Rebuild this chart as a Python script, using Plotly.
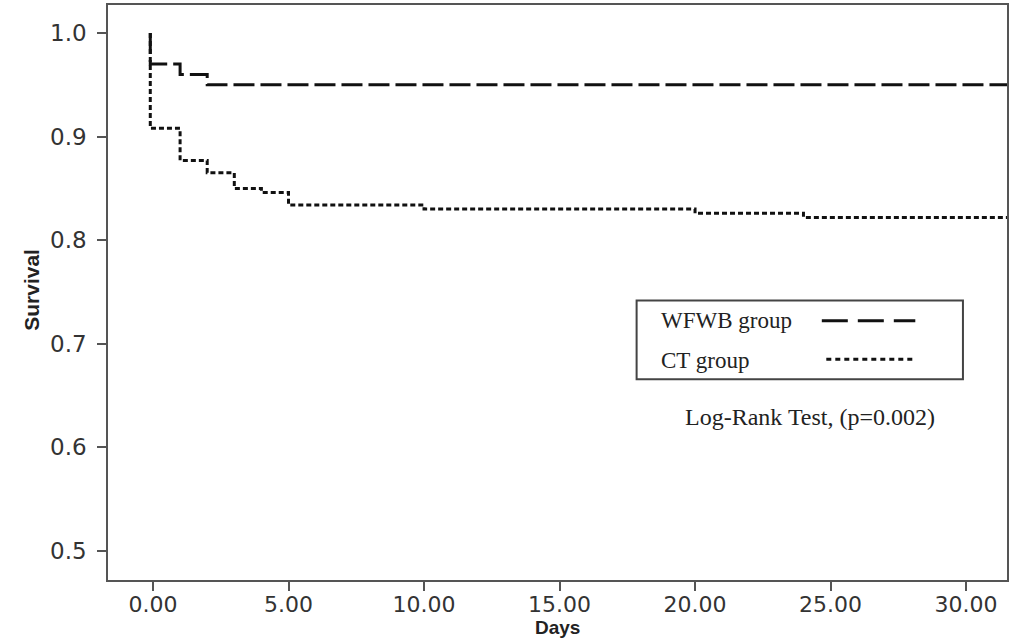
import plotly.graph_objects as go

# ---- data ----
wfwb_days = [-0.1, -0.1, 1, 2, 31.6]
wfwb_surv = [1.0, 0.970, 0.960, 0.950, 0.950]

ct_days = [-0.1, -0.1, 1, 2, 3, 4, 5, 10, 20, 24, 31.6]
ct_surv = [1.0, 0.908, 0.877, 0.865, 0.850, 0.846, 0.834, 0.830, 0.826, 0.822, 0.822]

x_ticks = [0, 5, 10, 15, 20, 25, 30]
x_tick_labels = ["0.00", "5.00", "10.00", "15.00", "20.00", "25.00", "30.00"]
y_ticks = [0.5, 0.6, 0.7, 0.8, 0.9, 1.0]
y_tick_labels = ["0.5", "0.6", "0.7", "0.8", "0.9", "1.0"]

legend_names = ["WFWB group", "CT group"]
test_text = "Log-Rank Test, (p=0.002)"

# ---- figure ----
fig = go.Figure()
fig.add_trace(go.Scatter(x=wfwb_days, y=wfwb_surv, mode="lines", line_shape="hv",
                         line=dict(color="#111111", width=3, dash="21px,6px"),
                         name=legend_names[0], showlegend=False))
fig.add_trace(go.Scatter(x=ct_days, y=ct_surv, mode="lines", line_shape="hv",
                         line=dict(color="#111111", width=3, dash="5px,3px"),
                         name=legend_names[1], showlegend=False))

axis_common = dict(showline=True, mirror=True, linecolor="#555555", linewidth=1.5,
                   ticks="outside", ticklen=9, tickcolor="#555555", tickwidth=1.5,
                   showgrid=False, zeroline=False)

fig.update_layout(
    width=1012, height=641,
    margin=dict(l=108, r=3, t=4, b=61),
    paper_bgcolor="white", plot_bgcolor="white",
    xaxis=dict(range=[-1.66, 31.51], tickvals=x_ticks, ticktext=x_tick_labels,
               ticklabelstandoff=-5,
               tickfont=dict(family="DejaVu Sans", size=22, color="#333333"), **axis_common),
    yaxis=dict(range=[0.472, 1.027], tickvals=y_ticks, ticktext=y_tick_labels,
               ticklabelstandoff=6,
               tickfont=dict(family="DejaVu Sans", size=23, color="#333333"), **axis_common),
    showlegend=False,
)

# axis titles
fig.add_annotation(text="<b>Survival</b>", xref="paper", yref="paper", x=-0.0855, y=0.505,
                   xanchor="center", yanchor="middle",
                   textangle=-90, showarrow=False,
                   font=dict(family="Liberation Sans", size=21, color="#222222"))
fig.add_annotation(text="<b>Days</b>", xref="paper", yref="paper", x=0.5, y=-0.082,
                   xanchor="center", yanchor="middle",
                   showarrow=False, font=dict(family="Liberation Sans", size=19, color="#222222"))

# custom legend box
fig.add_shape(type="rect", xref="paper", yref="paper", x0=0.588, x1=0.951, y0=0.349, y1=0.486,
              line=dict(color="#444444", width=2), fillcolor="white", layer="above")
fig.add_annotation(text=legend_names[0], xref="paper", yref="paper", x=0.613, y=0.451,
                   xanchor="left", yanchor="middle", showarrow=False,
                   font=dict(family="Liberation Serif", size=23, color="#222222"))
fig.add_annotation(text=legend_names[1], xref="paper", yref="paper", x=0.613, y=0.382,
                   xanchor="left", yanchor="middle", showarrow=False,
                   font=dict(family="Liberation Serif", size=23, color="#222222"))
fig.add_shape(type="line", xref="paper", yref="paper", x0=0.794, x1=0.898, y0=0.451, y1=0.451,
              line=dict(color="#111111", width=3, dash="26px,10px"))
fig.add_shape(type="line", xref="paper", yref="paper", x0=0.799, x1=0.896, y0=0.384, y1=0.384,
              line=dict(color="#111111", width=3, dash="5px,4px"))
fig.add_annotation(text=test_text, xref="paper", yref="paper", x=0.781, y=0.283,
                   xanchor="center", yanchor="middle", showarrow=False,
                   font=dict(family="Liberation Serif", size=24, color="#222222"))

fig.write_html("out.html", config={"displayModeBar": False},
               post_script="document.body.style.margin='0px';")
